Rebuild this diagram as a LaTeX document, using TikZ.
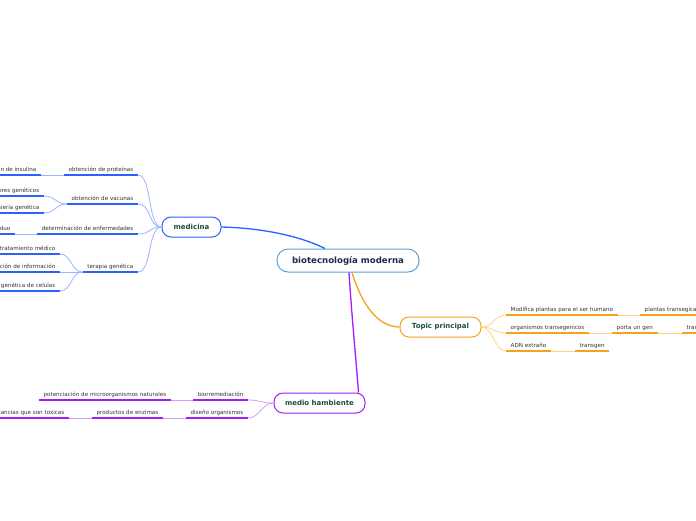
\documentclass[tikz,border=0pt]{standalone}
\usepackage{fontspec}
\setmainfont{DejaVu Sans}
\definecolor{txt}{HTML}{333333}
\definecolor{navy}{HTML}{1B2A4E}
\definecolor{dgreen}{HTML}{1E4D3C}
\definecolor{mainc}{HTML}{5AA0D8}
\definecolor{medc}{HTML}{2962FF}
\definecolor{medl}{HTML}{9DB5FF}
\definecolor{topc}{HTML}{F7A21B}
\definecolor{topl}{HTML}{FFD08A}
\definecolor{mhc}{HTML}{A51BFF}
\definecolor{mhl}{HTML}{D39AFF}
\tikzset{
  mainbox/.style={draw=mainc, line width=1pt, fill=white, rounded corners=11pt,
    minimum width=142pt, minimum height=23pt, inner sep=0pt, text=navy,
    font=\fontsize{8.6}{10}\selectfont\bfseries},
  topicbox/.style={line width=1pt, fill=white, rounded corners=9pt,
    minimum height=20pt, inner sep=0pt, text=dgreen,
    font=\fontsize{7}{8}\selectfont\bfseries},
  sub/.style={inner xsep=4.5pt, inner ysep=2pt, text height=4.2pt, text depth=1.2pt,
    font=\fontsize{5.6}{6.5}\selectfont, text=txt},
  ul/.style={line width=1.6pt},
  ln/.style={line width=0.8pt},
  mainln/.style={line width=1.3pt}
}
\begin{document}
\begin{tikzpicture}[x=1pt,y=-1pt]
\clip (0,0) rectangle (696,520);
\fill[white] (0,0) rectangle (696,520);

% central and topic nodes
\node[mainbox] (main) at (348,260.5) {biotecnología moderna};
\node[topicbox, draw=medc, minimum width=59pt] (med) at (191.5,227) {medicina};
\node[topicbox, draw=topc, minimum width=81pt] (tp) at (440.5,327) {Topic principal};
\node[topicbox, draw=mhc, minimum width=91pt] (mh) at (319.5,403) {medio hambiente};

% medicina subtopics
\node[sub, anchor=south east] (m1) at (138,175) {obtención de proteínas};
\node[sub, anchor=south east] (m1a) at (41,175) {producción de insulina};
\node[sub, anchor=south east] (m2) at (138,204) {obtención de vacunas};
\node[sub, anchor=south east] (m2a) at (44,196) {marcadores genéticos};
\node[sub, anchor=south east] (m2b) at (44,213) {ingeniería genética};
\node[sub, anchor=south east] (m3) at (138,234) {determinación de enfermedades};
\node[sub, anchor=south east] (m3a) at (15,234) {ADN del individuo};
\node[sub, anchor=south east] (m4) at (138,272) {terapia genética};
\node[sub, anchor=south east] (m4a) at (60,254) {tratamiento médico};
\node[sub, anchor=south east] (m4b) at (60,272) {obtención de información};
\node[sub, anchor=south east] (m4c) at (60,291) {modificación genética de celulas};

% topic principal subtopics
\node[sub, anchor=south west] (t1) at (506,315) {Modifica plantas para el ser humano};
\node[sub, anchor=south west] (t1a) at (640,315) {plantas transegicas};
\node[sub, anchor=south west] (t2) at (506,333) {organismos transegenicos};
\node[sub, anchor=south west] (t2a) at (612,333) {porta un gen};
\node[sub, anchor=south west] (t2b) at (682,333) {transgen};
\node[sub, anchor=south west] (t3) at (506,351) {ADN extraño};
\node[sub, anchor=south west] (t3a) at (575,351) {transgen};

% medio hambiente subtopics
\node[sub, anchor=south east] (h1) at (248,400) {biorremediación};
\node[sub, anchor=south east] (h1a) at (171,400) {potenciación de microorganismos naturales};
\node[sub, anchor=south east] (h2) at (248,418) {diseño organismos};
\node[sub, anchor=south east] (h2a) at (163,418) {productos de enzimas};
\node[sub, anchor=south east] (h2b) at (69,418) {eliminación de sustancias que son toxicas};

% underlines
\foreach \n in {m1,m1a,m2,m2a,m2b,m3,m3a,m4,m4a,m4b,m4c}
  \draw[ul, medc] (\n.south west) -- (\n.south east);
\foreach \n in {t1,t1a,t2,t2a,t2b,t3,t3a}
  \draw[ul, topc] (\n.south west) -- (\n.south east);
\foreach \n in {h1,h1a,h2,h2a,h2b}
  \draw[ul, mhc] (\n.south west) -- (\n.south east);

% main connectors
\draw[mainln, medc] ([xshift=-23pt]main.north) .. controls (300,236) and (262,228) .. (med.east);
\draw[mainln, topc] ([xshift=4pt]main.south) .. controls (362,305) and (378,327) .. (tp.west);
\draw[mainln, mhc] ([xshift=1pt]main.south) .. controls (352,320) and (357,370) .. ([xshift=-7pt]mh.north east);

% medicina connectors
\foreach \n in {m1,m2,m3,m4}
  \draw[ln, medl] (med.west) .. controls +(-14,0) and +(14,0) .. (\n.south east);
\draw[ln, medl] (m1a.south east) -- (m1.south west);
\draw[ln, medl] (m3a.south east) -- (m3.south west);
\foreach \n in {m2a,m2b}
  \draw[ln, medl] (m2.south west) .. controls +(-12,0) and +(12,0) .. (\n.south east);
\foreach \n in {m4a,m4b,m4c}
  \draw[ln, medl] (m4.south west) .. controls +(-12,0) and +(12,0) .. (\n.south east);

% topic connectors
\foreach \n in {t1,t2,t3}
  \draw[ln, topl] (tp.east) .. controls +(12,0) and +(-12,0) .. (\n.south west);
\draw[ln, topl] (t1.south east) -- (t1a.south west);
\draw[ln, topl] (t2.south east) -- (t2a.south west);
\draw[ln, topl] (t2a.south east) -- (t2b.south west);
\draw[ln, topl] (t3.south east) -- (t3a.south west);

% medio hambiente connectors
\foreach \n in {h1,h2}
  \draw[ln, mhl] (mh.west) .. controls +(-12,0) and +(12,0) .. (\n.south east);
\draw[ln, mhl] (h1a.south east) -- (h1.south west);
\draw[ln, mhl] (h2a.south east) -- (h2.south west);
\draw[ln, mhl] (h2b.south east) -- (h2a.south west);
\end{tikzpicture}
\end{document}
